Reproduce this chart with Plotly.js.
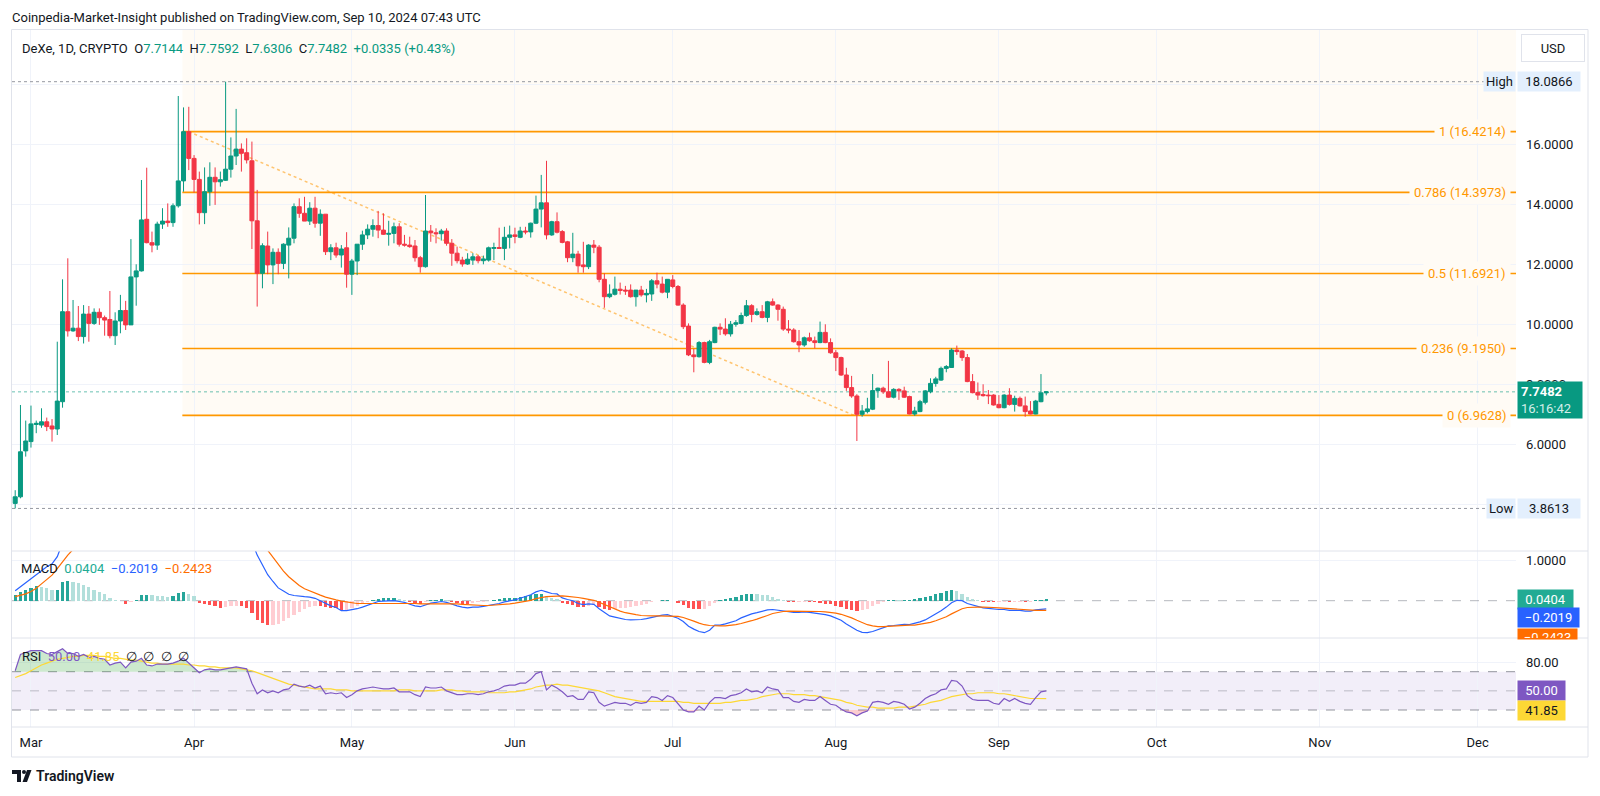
<!DOCTYPE html>
<html><head><meta charset="utf-8">
<script src="https://cdn.plot.ly/plotly-3.0.1.min.js"></script>
<style>html,body{margin:0;padding:0;background:#fff;}#chart{width:1600px;height:796px;}</style>
</head><body><div id="chart"></div>
<script>
// ---------- DATA ----------
const startDate = '2024-02-27';
const opens = [4.03,4.25,5.78,6.09,6.66,6.64,6.75,6.61,6.51,7.42,
10.42,9.78,9.87,9.59,10.34,10.03,10.40,10.22,10.16,9.62,
10.11,10.46,9.98,11.58,11.78,13.50,12.72,12.64,13.34,13.44,
13.39,13.95,14.78,16.42,15.53,14.83,13.72,14.42,14.90,14.75,
14.80,15.17,15.61,15.84,15.72,15.45,13.45,11.70,12.61,11.98,
12.40,12.03,12.64,12.87,13.92,13.70,13.44,13.87,13.37,13.67,
12.42,12.55,12.31,12.55,11.67,12.11,12.67,12.98,13.17,13.29,
13.14,13.00,13.03,13.25,12.67,12.64,12.61,12.22,11.92,13.11,
13.05,13.02,13.11,12.70,12.37,12.14,12.01,12.14,12.25,12.12,
12.14,12.53,12.56,12.53,12.90,12.98,12.90,13.11,13.08,13.37,
13.84,14.05,12.98,13.42,13.09,12.75,12.22,12.34,11.98,11.92,
12.64,12.57,11.50,10.92,11.00,11.17,11.14,11.14,10.92,11.14,
10.98,11.01,11.45,11.34,11.07,11.48,11.26,10.64,9.94,8.98,
8.92,9.39,8.73,9.39,9.90,9.84,9.68,10.00,10.03,10.29,
10.62,10.33,10.42,10.23,10.75,10.64,10.50,9.84,9.81,9.42,
9.31,9.55,9.45,9.39,9.73,9.39,9.05,8.89,8.31,7.89,
7.61,7.00,7.09,7.17,7.79,7.87,7.75,7.57,7.83,7.78,
7.59,7.01,7.09,7.40,7.75,8.03,8.14,8.53,8.56,9.14,
9.11,8.89,8.09,7.73,7.66,7.64,7.64,7.33,7.22,7.64,
7.33,7.53,7.28,7.11,7.01,7.42,7.7144];
const highs = [4.47,7.31,6.79,7.29,6.79,7.20,6.89,6.84,9.42,11.50,
12.20,10.81,10.61,10.64,10.61,10.53,10.53,10.29,11.11,10.40,
10.98,10.78,12.84,12.00,14.81,15.22,13.09,13.42,13.87,14.03,
14.03,17.61,17.23,17.25,15.64,15.09,15.23,15.40,15.23,15.09,
18.0866,16.23,17.18,16.03,16.20,16.09,14.48,12.70,13.09,12.53,
12.53,12.70,13.23,14.03,14.20,14.25,14.07,14.25,13.83,13.67,
12.67,12.72,12.64,13.07,12.18,12.67,13.12,13.33,13.50,13.78,
13.70,13.45,13.39,13.37,12.98,12.92,12.81,12.28,14.31,13.31,
13.20,13.18,13.20,12.84,12.59,12.25,12.37,12.37,12.31,12.29,
12.59,12.72,13.22,13.25,13.29,13.22,13.25,13.25,13.39,14.29,
14.98,15.45,13.45,13.73,13.14,12.78,13.05,12.45,12.75,12.67,
12.81,12.64,11.70,11.33,11.59,11.39,11.28,11.33,11.14,11.28,
11.18,11.51,11.72,11.59,11.51,11.64,11.31,10.70,10.03,9.18,
9.44,9.42,9.48,9.92,10.03,10.20,10.11,10.14,10.39,10.81,
10.67,10.53,10.64,10.78,10.86,10.67,10.59,10.14,9.87,9.81,
9.59,9.72,9.59,10.09,10.00,9.53,9.14,8.92,8.55,8.28,
7.67,7.31,7.55,8.34,7.89,7.92,8.78,7.87,7.87,7.92,
7.62,7.25,7.48,7.81,8.20,8.25,8.59,8.64,9.20,9.29,
9.14,9.01,8.34,8.06,8.00,7.81,7.67,7.64,7.67,7.87,
7.62,7.59,7.59,7.44,7.48,8.34,7.7592];
const lows = [3.8613,4.20,5.59,5.89,6.37,6.55,6.44,6.09,6.31,7.22,
9.59,9.75,9.44,9.36,9.42,9.98,9.98,9.62,9.53,9.31,
9.70,9.81,9.98,10.62,11.76,12.70,12.40,12.48,13.18,13.25,
13.25,13.89,14.42,15.14,14.39,13.33,13.34,13.95,13.98,14.59,
14.78,14.89,15.31,15.09,15.36,12.51,10.59,11.20,11.67,11.34,
11.67,11.84,11.53,12.70,13.55,13.44,13.31,13.22,12.95,12.31,
12.14,12.22,11.89,11.22,10.98,11.64,12.48,12.84,12.92,12.87,
12.98,12.62,12.70,12.59,12.59,12.55,12.09,11.72,11.89,12.75,
12.70,12.79,12.62,11.95,12.03,11.92,11.98,11.98,12.03,12.00,
12.09,12.14,12.51,12.14,12.53,12.70,12.87,13.00,12.89,13.34,
13.23,12.83,12.95,13.03,12.70,12.07,12.07,11.72,11.72,11.84,
12.37,11.40,10.55,10.87,10.96,10.99,10.98,10.89,10.59,10.92,
10.73,10.78,11.20,11.03,10.87,11.20,10.62,9.84,8.94,8.40,
8.89,8.70,8.67,9.37,9.64,9.62,9.59,9.92,10.00,10.25,
10.07,10.29,10.20,10.07,10.62,10.12,9.78,9.70,9.39,9.07,
9.25,9.42,9.20,9.37,9.37,9.02,8.44,8.28,7.78,7.55,
6.11,6.92,7.03,7.14,7.55,7.68,7.55,7.53,7.48,7.55,
7.00,6.95,7.07,7.33,7.70,7.92,8.11,8.40,8.55,8.98,
8.78,8.07,7.70,7.48,7.59,7.34,7.29,7.20,7.20,7.29,
7.09,7.26,6.92,7.00,7.00,7.40,7.6306];
const closes = [4.25,5.75,6.11,6.68,6.70,6.75,6.59,6.51,7.44,10.42,
9.78,9.87,9.59,10.34,10.03,10.40,10.22,10.14,9.62,10.11,
10.46,9.98,11.58,11.78,13.48,12.72,12.64,13.34,13.44,13.39,
13.95,14.78,16.42,15.53,14.83,13.72,14.42,14.90,14.75,14.82,
15.17,15.61,15.84,15.70,15.48,13.45,11.70,12.62,11.98,12.40,
12.03,12.67,12.87,13.92,13.70,13.44,13.87,13.37,13.67,12.42,
12.55,12.31,12.51,11.67,12.11,12.67,12.98,13.17,13.29,13.14,
13.00,13.03,13.25,12.67,12.64,12.59,12.22,11.92,13.11,13.05,
13.02,13.11,12.70,12.37,12.12,12.01,12.17,12.25,12.12,12.18,
12.55,12.56,12.53,12.90,12.98,12.93,13.11,13.08,13.37,13.84,
14.05,12.98,13.42,13.07,12.73,12.22,12.34,11.95,11.92,12.64,
12.57,11.50,10.92,11.01,11.17,11.13,11.11,10.92,11.14,10.98,
11.03,11.45,11.34,11.07,11.50,11.26,10.64,9.92,8.98,8.92,
9.39,8.73,9.42,9.90,9.84,9.68,10.00,10.05,10.29,10.62,
10.33,10.42,10.23,10.75,10.64,10.50,9.84,9.81,9.42,9.31,
9.55,9.45,9.39,9.73,9.39,9.05,8.89,8.31,7.89,7.61,
7.00,7.11,7.18,7.79,7.87,7.75,7.57,7.83,7.78,7.57,
7.01,7.11,7.42,7.78,8.03,8.18,8.53,8.59,9.14,9.09,
8.89,8.09,7.72,7.64,7.62,7.62,7.31,7.22,7.64,7.33,
7.53,7.28,7.09,7.01,7.44,7.7147,7.7482];

const macdLine = [0.25,0.35,0.45,0.57,0.67,0.77,0.85,0.92,1.10,1.45,
1.65,1.78,1.88,1.96,2.00,2.00,1.99,1.98,1.93,1.90,
1.87,1.80,1.87,1.93,2.08,2.12,2.14,2.16,2.17,2.18,
2.21,2.34,2.42,2.43,2.40,2.23,2.18,2.13,2.05,1.97,
1.94,1.91,1.87,1.80,1.71,1.48,1.14,0.90,0.65,0.48,
0.32,0.24,0.16,0.13,0.11,0.10,0.09,0.06,0.00,-0.07,
-0.13,-0.17,-0.25,-0.25,-0.23,-0.20,-0.16,-0.11,-0.05,-0.02,
-0.01,-0.01,0.00,-0.02,-0.04,-0.09,-0.13,-0.15,-0.11,-0.06,
-0.04,-0.02,-0.04,-0.09,-0.13,-0.16,-0.18,-0.16,-0.16,-0.14,
-0.12,-0.09,-0.07,-0.03,-0.01,0.02,0.06,0.10,0.15,0.22,
0.26,0.22,0.18,0.17,0.07,0.03,0.00,-0.07,-0.10,-0.08,
-0.09,-0.20,-0.30,-0.38,-0.41,-0.44,-0.47,-0.48,-0.48,-0.47,
-0.45,-0.42,-0.39,-0.36,-0.35,-0.39,-0.44,-0.52,-0.64,-0.71,
-0.77,-0.80,-0.74,-0.61,-0.61,-0.58,-0.54,-0.50,-0.43,-0.37,
-0.33,-0.30,-0.27,-0.23,-0.22,-0.24,-0.25,-0.28,-0.29,-0.29,
-0.28,-0.29,-0.31,-0.32,-0.35,-0.38,-0.43,-0.49,-0.58,-0.66,
-0.74,-0.79,-0.80,-0.77,-0.72,-0.66,-0.63,-0.62,-0.61,-0.59,
-0.60,-0.57,-0.53,-0.48,-0.41,-0.34,-0.25,-0.16,-0.05,0.01,
0.00,-0.07,-0.11,-0.15,-0.18,-0.19,-0.21,-0.22,-0.22,-0.24,
-0.24,-0.24,-0.26,-0.26,-0.23,-0.21,-0.2019];
const signalLine = [0.10,0.13,0.17,0.23,0.31,0.42,0.53,0.64,0.80,0.98,
1.14,1.28,1.40,1.52,1.62,1.70,1.77,1.82,1.85,1.87,
1.88,1.88,1.89,1.91,1.94,1.97,2.00,2.03,2.06,2.08,
2.10,2.14,2.20,2.25,2.28,2.28,2.26,2.23,2.19,2.14,
2.09,2.04,1.99,1.94,1.88,1.78,1.62,1.45,1.26,1.08,
0.90,0.74,0.60,0.48,0.38,0.30,0.24,0.18,0.14,0.09,
0.05,0.02,-0.01,-0.03,-0.05,-0.07,-0.07,-0.07,-0.07,-0.07,
-0.07,-0.07,-0.07,-0.06,-0.06,-0.06,-0.07,-0.08,-0.08,-0.07,
-0.07,-0.07,-0.07,-0.07,-0.08,-0.09,-0.10,-0.11,-0.12,-0.12,
-0.12,-0.11,-0.11,-0.09,-0.08,-0.06,-0.04,-0.02,0.01,0.05,
0.08,0.10,0.11,0.12,0.12,0.11,0.10,0.08,0.06,0.04,
0.01,-0.04,-0.10,-0.16,-0.21,-0.26,-0.30,-0.33,-0.35,-0.37,
-0.38,-0.38,-0.38,-0.38,-0.38,-0.38,-0.39,-0.42,-0.46,-0.51,
-0.56,-0.60,-0.62,-0.63,-0.63,-0.63,-0.62,-0.60,-0.57,-0.54,
-0.50,-0.46,-0.42,-0.37,-0.32,-0.29,-0.27,-0.26,-0.26,-0.26,
-0.26,-0.26,-0.27,-0.27,-0.28,-0.29,-0.31,-0.34,-0.38,-0.43,
-0.49,-0.55,-0.60,-0.63,-0.65,-0.65,-0.64,-0.63,-0.62,-0.61,
-0.61,-0.61,-0.59,-0.57,-0.54,-0.50,-0.45,-0.40,-0.33,-0.26,
-0.20,-0.17,-0.16,-0.16,-0.16,-0.16,-0.17,-0.18,-0.19,-0.20,
-0.20,-0.21,-0.22,-0.23,-0.24,-0.24,-0.2423];
const macdHist = [0.14,0.22,0.28,0.33,0.36,0.34,0.31,0.27,0.27,0.46,
0.49,0.48,0.44,0.39,0.34,0.28,0.22,0.16,0.06,0.03,
-0.01,-0.08,-0.02,0.02,0.14,0.15,0.14,0.13,0.11,0.10,
0.11,0.20,0.22,0.18,0.12,-0.05,-0.08,-0.10,-0.14,-0.17,
-0.15,-0.13,-0.12,-0.14,-0.17,-0.30,-0.48,-0.55,-0.61,-0.60,
-0.58,-0.50,-0.44,-0.35,-0.27,-0.20,-0.15,-0.12,-0.14,-0.16,
-0.18,-0.19,-0.24,-0.22,-0.18,-0.13,-0.09,-0.04,0.02,0.05,
0.06,0.06,0.07,0.04,0.02,-0.03,-0.06,-0.07,-0.03,0.01,
0.03,0.05,0.03,-0.02,-0.05,-0.07,-0.08,-0.05,-0.04,-0.02,
0.00,0.02,0.04,0.06,0.07,0.08,0.10,0.12,0.14,0.17,
0.18,0.12,0.07,0.05,-0.05,-0.08,-0.10,-0.15,-0.16,-0.12,
-0.10,-0.16,-0.20,-0.22,-0.20,-0.18,-0.17,-0.15,-0.13,-0.10,
-0.07,-0.04,-0.01,0.02,0.03,-0.01,-0.05,-0.10,-0.18,-0.20,
-0.21,-0.20,-0.12,-0.05,0.02,0.05,0.08,0.10,0.14,0.17,
0.17,0.16,0.15,0.14,0.10,0.05,0.02,-0.02,-0.03,-0.03,
-0.02,-0.03,-0.04,-0.05,-0.07,-0.09,-0.12,-0.15,-0.20,-0.23,
-0.25,-0.24,-0.20,-0.14,-0.07,-0.02,0.01,0.02,0.01,0.01,
0.02,0.04,0.06,0.09,0.13,0.16,0.20,0.24,0.28,0.24,
0.17,0.10,0.05,0.01,-0.02,-0.03,-0.04,-0.04,-0.03,-0.04,
-0.04,-0.03,-0.04,-0.03,0.01,0.03,0.0404];

const rsiLine = [71,88,90,92,92,92,89,88,91,94,
89,89,86,88,85,86,84,83,77,79,
80,74,80,81,84,77,76,78,78,78,
79,81,84,79,75,69,72,73,72,72,
73,74,75,74,73,58,47,51,48,50,
48,51,52,57,55,54,56,53,55,47,
48,47,48,43,46,50,52,53,54,53,
52,52,53,49,49,49,46,44,54,53,
53,54,50,48,46,46,47,47,46,47,
49,50,52,55,56,56,58,58,62,68,
70,51,56,53,49,44,45,41,41,49,
48,38,34,36,38,37,37,35,38,37,
38,44,43,40,45,43,36,30,28,28,
34,30,38,43,43,42,45,46,48,52,
49,50,48,54,52,51,43,43,39,38,
41,40,40,44,40,36,35,31,28,27,
24,27,29,38,39,38,36,39,38,36,
31,33,37,42,45,47,51,52,61,60,
55,45,41,40,40,40,37,36,42,39,
42,39,37,36,43,49,50.00];
const rsiMA = [64,66,68,71,74,77,79,81,83,84,
85,86,86,87,87,87,86,86,85,84,
84,83,82,82,81,80,79,79,78,78,
78,78,78,77,77,76,76,75,75,74,
74,74,74,73,72,71,69,67,65,63,
61,59,57,56,55,54,53,52,52,52,
52,51,51,51,50,50,50,50,50,50,
50,50,50,51,51,51,50,50,50,50,
50,51,51,51,50,50,49,49,49,49,
48,48,48,48,49,49,50,51,52,54,
55,56,56,57,56,56,55,54,53,52,
51,50,48,46,44,43,42,41,40,39,
39,39,39,39,39,39,39,38,38,37,
37,37,37,37,37,38,38,39,40,40,
41,42,44,45,46,47,47,47,46,46,
46,45,45,44,43,42,41,40,38,37,
35,34,33,33,32,32,32,32,33,33,
33,34,35,36,38,39,40,42,44,45,
46,47,47,48,48,48,48,47,47,46,
45,44,43,42,42,42,41.85];

const fibLevels = ['1','0.786','0.5','0.236','0'];
const fibPrices = [16.4214,14.3973,11.6921,9.1950,6.9628];
const monthTicks = ['2024-03-01','2024-04-01','2024-05-01','2024-06-01','2024-07-01','2024-08-01','2024-09-01','2024-10-01','2024-11-01','2024-12-01'];
const monthLabels = ['Mar','Apr','May','Jun','Jul','Aug','Sep','Oct','Nov','Dec'];
const priceTicks = [4,6,8,10,12,14,16,18];
const rsiBands = [70,50,30];
const countdown = '16:16:42';

// ---------- GEOMETRY / STYLE ----------
const L=12, R=1516, T=30, B=727;
const px2x = p => (p-L)/(R-L);
const px2y = p => (B-p)/(B-T);
const xStart='2024-02-26 09:24', xEnd='2024-12-08 07:12';
const fibStart='2024-03-29 18:30', trendStart='2024-03-31 00:00', trendEnd='2024-08-04 12:00';
const priceRange=[2.443,19.81], macdRange=[-0.9325,1.2425], rsiRange=[12.25,105.2];
const UP='#089981', DN='#f23645';
const FIB='#ff9800', FIBBG='#fffbf5';
const FONT='Roboto, "Liberation Sans", sans-serif';

const dates = closes.map((_,i)=>{const d=new Date(Date.parse(startDate+'T00:00:00Z')+i*864e5);return d.toISOString().slice(0,10);});
const n = closes.length;
const f4 = v=>v.toFixed(4);
const sg = (v,d)=> (v<0?'\u2212':'') + Math.abs(v).toFixed(d);

const histColors = macdHist.map((v,i)=>{const p=i>0?macdHist[i-1]:v; return v>=0?(v>=p?'#26a69a':'#b2dfdb'):(v<p?'#ff5252':'#ffcdd2');});

const traces = [
 {type:'candlestick',x:dates,open:opens,high:highs,low:lows,close:closes,xaxis:'x',yaxis:'y',
  increasing:{line:{color:UP,width:1},fillcolor:UP},decreasing:{line:{color:DN,width:1},fillcolor:DN},
  whiskerwidth:0,hoverinfo:'skip'},
 {type:'bar',x:dates,y:macdHist,xaxis:'x',yaxis:'y2',marker:{color:histColors,line:{width:0}},width:0.62*864e5,hoverinfo:'skip'},
 {type:'scatter',mode:'lines',x:dates,y:macdLine,xaxis:'x',yaxis:'y2',line:{color:'#2962ff',width:1.2},hoverinfo:'skip'},
 {type:'scatter',mode:'lines',x:dates,y:signalLine,xaxis:'x',yaxis:'y2',line:{color:'#ff6d00',width:1.2},hoverinfo:'skip'},
 {type:'scatter',mode:'lines',x:dates,y:dates.map(()=>rsiBands[0]),xaxis:'x',yaxis:'y3',line:{width:0},hoverinfo:'skip'},
 {type:'scatter',mode:'lines',x:dates,y:rsiLine.map(v=>Math.max(v,rsiBands[0])),xaxis:'x',yaxis:'y3',line:{width:0},fill:'tonexty',fillcolor:'rgba(76,175,80,0.28)',hoverinfo:'skip'},
 {type:'scatter',mode:'lines',x:dates,y:dates.map(()=>rsiBands[2]),xaxis:'x',yaxis:'y3',line:{width:0},hoverinfo:'skip'},
 {type:'scatter',mode:'lines',x:dates,y:rsiLine.map(v=>Math.min(v,rsiBands[2])),xaxis:'x',yaxis:'y3',line:{width:0},fill:'tonexty',fillcolor:'rgba(242,54,69,0.25)',hoverinfo:'skip'},
 {type:'scatter',mode:'lines',x:dates,y:rsiMA,xaxis:'x',yaxis:'y3',line:{color:'#fdd835',width:1.2},hoverinfo:'skip'},
 {type:'scatter',mode:'lines',x:dates,y:rsiLine,xaxis:'x',yaxis:'y3',line:{color:'#7e57c2',width:1.2},hoverinfo:'skip'}
];

const hi = Math.max(...highs), lo = Math.min(...lows);
const last = n-1, cl = closes[last], prev = closes[last-1];
const chg = cl-prev, pct = chg/prev*100;

const shapes = [];
// fib background
shapes.push({type:'rect',xref:'x',yref:'y',x0:fibStart,x1:xEnd,y0:fibPrices[4],y1:priceRange[1],fillcolor:'rgba(255,152,0,0.04)',line:{width:0},layer:'below'});
fibPrices.forEach(p=>shapes.push({type:'line',xref:'x',yref:'y',x0:fibStart,x1:xEnd,y0:p,y1:p,line:{color:FIB,width:1.6},layer:'between'}));
shapes.push({type:'line',xref:'x',yref:'y',x0:trendStart,x1:trendEnd,y0:fibPrices[0],y1:fibPrices[4],line:{color:'rgba(255,152,0,0.55)',width:1.5,dash:'dot'},layer:'between'});
// high/low/current lines
[hi,lo].forEach(v=>shapes.push({type:'line',xref:'x',yref:'y',x0:xStart,x1:xEnd,y0:v,y1:v,line:{color:'#9598a1',width:1,dash:'dot'},layer:'between'}));
shapes.push({type:'line',xref:'x',yref:'y',x0:xStart,x1:xEnd,y0:cl,y1:cl,line:{color:'rgba(8,153,129,0.6)',width:1,dash:'dot'},layer:'between'});
// MACD zero
shapes.push({type:'line',xref:'x',yref:'y2',x0:xStart,x1:xEnd,y0:0,y1:0,line:{color:'rgba(120,123,134,0.55)',width:1,dash:'dash'},layer:'between'});
// RSI band
shapes.push({type:'rect',xref:'x',yref:'y3',x0:xStart,x1:xEnd,y0:rsiBands[2],y1:rsiBands[0],fillcolor:'rgba(126,87,194,0.1)',line:{width:0},layer:'below'});
rsiBands.forEach((v,i)=>shapes.push({type:'line',xref:'x',yref:'y3',x0:xStart,x1:xEnd,y0:v,y1:v,line:{color:i===1?'rgba(120,123,134,0.45)':'rgba(120,123,134,0.8)',width:1,dash:'dash'},layer:'between'}));
// frame & separators
const FR='#e0e3eb';
const xL=px2x(11.5), xR=px2x(1588);
[29.5,551,638,727,757].forEach(py=>shapes.push({type:'line',xref:'paper',yref:'paper',x0:xL,x1:xR,y0:px2y(py),y1:px2y(py),line:{color:FR,width:1}}));
[11.5,1588].forEach(px=>shapes.push({type:'line',xref:'paper',yref:'paper',x0:px2x(px),x1:px2x(px),y0:px2y(29.5),y1:px2y(757),line:{color:FR,width:1}}));
// logo
const P=(x,y)=>px2x(x)+','+px2y(y);
shapes.push({type:'path',xref:'paper',yref:'paper',path:`M${P(12,770)}L${P(21,770)}L${P(21,782)}L${P(17,782)}L${P(17,774)}L${P(12,774)}Z`,fillcolor:'#131722',line:{width:0}});
shapes.push({type:'circle',xref:'paper',yref:'paper',x0:px2x(22),x1:px2x(26),y0:px2y(774),y1:px2y(770),fillcolor:'#131722',line:{width:0}});
shapes.push({type:'path',xref:'paper',yref:'paper',path:`M${P(27,770)}L${P(31.5,770)}L${P(27,782)}L${P(22.5,782)}Z`,fillcolor:'#131722',line:{width:0}});

const A = [];
const base = {showarrow:false,font:{family:FONT,size:13,color:'#131722'}};
const add = o=>A.push(Object.assign({},base,o));
add({xref:'paper',yref:'paper',x:px2x(10),y:px2y(17),xanchor:'left',yanchor:'middle',text:'Coinpedia-Market-Insight published on TradingView.com, Sep 10, 2024 07:43 UTC'});
const g = s=>`<span style="color:${UP}">${s}</span>`;
const sp='\u00a0\u00a0';
add({xref:'paper',yref:'paper',x:px2x(20),y:px2y(49),xanchor:'left',yanchor:'middle',
 text:`DeXe, 1D, CRYPTO${sp}O${g(f4(opens[last]))}${sp}H${g(f4(highs[last]))}${sp}L${g(f4(lows[last]))}${sp}C${g(f4(cl))}${sp}${g((chg>=0?'+':'\u2212')+Math.abs(chg).toFixed(4)+' ('+(pct>=0?'+':'\u2212')+Math.abs(pct).toFixed(2)+'%)')}`});
// USD box
add({xref:'paper',yref:'paper',x:px2x(1552.5),y:px2y(48),xanchor:'center',yanchor:'middle',text:'USD',width:58,height:22,bordercolor:'#e0e3eb',borderwidth:1,borderpad:2,bgcolor:'#fff'});
// fib labels
fibPrices.forEach((p,i)=>add({xref:'paper',yref:'y',x:px2x(1511),y:p,xanchor:'right',yanchor:'middle',text:`${fibLevels[i]} (${f4(p)})`,font:{family:FONT,size:13,color:FIB},bgcolor:FIBBG,borderpad:4}));
// high / low
[['High',hi],['Low',lo]].forEach(([t,v])=>{
 add({xref:'paper',yref:'y',x:1,y:v,xanchor:'right',yanchor:'middle',text:t,bgcolor:'#e3effd',borderpad:2});
 add({xref:'paper',yref:'y',x:px2x(1517),y:v,xanchor:'left',yanchor:'middle',text:f4(v),bgcolor:'#e3effd',borderpad:2,width:58,align:'center'});
});
// current price
add({xref:'paper',yref:'y',x:px2x(1517),y:cl,xanchor:'left',yanchor:'middle',yshift:-8,align:'left',width:58,height:30,borderpad:3,bgcolor:UP,
 text:`<b>${f4(cl)}</b><br><span style="color:#d3eee9">${countdown}</span>`,font:{family:FONT,size:13,color:'#ffffff'}});
// MACD legend & boxes
const mh=macdHist[last], ml=macdLine[last], ms=signalLine[last];
add({xref:'paper',yref:'paper',x:px2x(19),y:px2y(568),xanchor:'left',yanchor:'middle',
 text:`MACD${sp}<span style="color:#22ab94">${sg(mh,4)}</span>${sp}<span style="color:#2962ff">${sg(ml,4)}</span>${sp}<span style="color:#ff6d00">${sg(ms,4)}</span>`});
add({xref:'paper',yref:'y2',x:px2x(1517),y:mh,xanchor:'left',yanchor:'middle',text:sg(mh,4),bgcolor:'#22ab94',font:{family:FONT,size:13,color:'#fff'},width:51,borderpad:2,align:'center'});
add({xref:'paper',yref:'paper',x:px2x(1517),y:px2y(617.5),xanchor:'left',yanchor:'middle',text:sg(ml,4),bgcolor:'#2962ff',font:{family:FONT,size:13,color:'#fff'},width:57,borderpad:2,align:'center'});
add({xref:'paper',yref:'paper',x:px2x(1517),y:px2y(628),xanchor:'left',yanchor:'top',text:sg(ms,4),bgcolor:'#ff6d00',font:{family:FONT,size:13,color:'#fff'},width:57,height:8,valign:'top',borderpad:1,align:'center'});
// RSI legend & boxes
const rl=rsiLine[last], rm=rsiMA[last];
add({xref:'paper',yref:'paper',x:px2x(20),y:px2y(656),xanchor:'left',yanchor:'middle',
 text:`RSI${sp}<span style="color:#7e57c2">${rl.toFixed(2)}</span>${sp}<span style="color:#fdd835">${rm.toFixed(2)}</span>${sp}\u2205${sp}\u2205${sp}\u2205${sp}\u2205`});
add({xref:'paper',yref:'y3',x:px2x(1517),y:rl,xanchor:'left',yanchor:'middle',text:rl.toFixed(2),bgcolor:'#7e57c2',font:{family:FONT,size:13,color:'#fff'},width:43,borderpad:2,align:'center'});
add({xref:'paper',yref:'paper',x:px2x(1517),y:px2y(710),xanchor:'left',yanchor:'middle',text:rm.toFixed(2),bgcolor:'#fdd835',font:{family:FONT,size:13,color:'#131722'},width:43,borderpad:2,align:'center'});
// logo text
add({xref:'paper',yref:'paper',x:px2x(34),y:px2y(776),xanchor:'left',yanchor:'middle',text:'TradingView',font:{family:FONT,size:14,color:'#131722',weight:600}});

const axBase = {showline:false,zeroline:false,ticks:'',fixedrange:true,gridcolor:'#f0f3fa',tickfont:{family:FONT,size:13,color:'#131722'}};
const layout = {
 width:1600,height:796,margin:{l:L,r:1600-R,t:T,b:796-B,pad:0},
 paper_bgcolor:'#ffffff',plot_bgcolor:'#ffffff',showlegend:false,hovermode:false,dragmode:false,
 boxgap:0.2,boxgroupgap:0.05,bargap:0,
 font:{family:FONT,size:13,color:'#131722'},
 xaxis:Object.assign({},axBase,{type:'date',range:[xStart,xEnd],anchor:'y3',tickvals:monthTicks,ticktext:monthLabels,showgrid:true,rangeslider:{visible:false},ticklabelstandoff:6}),
 yaxis:Object.assign({},axBase,{domain:[px2y(551),1],range:priceRange,side:'right',anchor:'x',tickvals:priceTicks,tickformat:'.4f',ticklabelstandoff:9}),
 yaxis2:Object.assign({},axBase,{domain:[px2y(638),px2y(551)],range:macdRange,side:'right',anchor:'x',tickvals:[1],tickformat:'.4f',ticklabelstandoff:9}),
 yaxis3:Object.assign({},axBase,{domain:[0,px2y(638)],range:rsiRange,side:'right',anchor:'x',tickvals:[80],tickformat:'.2f',ticklabelstandoff:9}),
 shapes:shapes,annotations:A
};
Plotly.newPlot('chart',traces,layout,{staticPlot:true,displayModeBar:false});
</script></body></html>
